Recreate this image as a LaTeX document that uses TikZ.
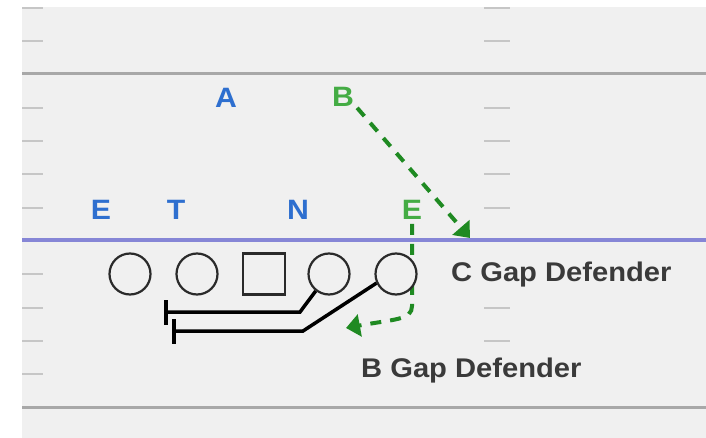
\documentclass[tikz,border=0pt]{standalone}
\usepackage{fontspec}
\setmainfont{Liberation Sans}
\usetikzlibrary{arrows.meta}
\definecolor{fieldbg}{HTML}{F0F0F0}
\definecolor{yardline}{HTML}{A8A8A8}
\definecolor{hashc}{HTML}{C6C6C6}
\definecolor{losblue}{HTML}{8686D6}
\definecolor{offblue}{HTML}{2E6FCF}
\definecolor{defgreen}{HTML}{44AC44}
\definecolor{routegreen}{HTML}{1F8A22}
\definecolor{txtgrey}{HTML}{3A3A3A}
\definecolor{plyr}{HTML}{2A2A2A}
\newcommand{\wide}[1]{\scalebox{1.08}[1]{#1}}
\tikzset{
  hashmark/.style={draw=hashc, line width=2.5pt},
  yline/.style={draw=yardline, line width=3pt},
  letter/.style={font=\fontsize{28}{32}\selectfont\bfseries, inner sep=0pt},
  offl/.style={letter, text=offblue},
  defl/.style={letter, text=defgreen},
  caption/.style={font=\fontsize{27}{32}\selectfont\bfseries, text=txtgrey, inner sep=0pt, anchor=west},
  player/.style={draw=plyr, line width=2.2pt, fill=fieldbg, minimum width=40pt, minimum height=41pt, inner sep=0pt},
  route/.style={draw=routegreen, line width=4pt, dash pattern=on 11pt off 9pt, -{Triangle[length=14pt,width=22pt]}, fill=none},
  block/.style={draw=black, line width=3.5pt, -{Bar[width=25pt,line width=3.5pt]}}
}
\begin{document}
\begin{tikzpicture}[x=1pt,y=-1pt]
\useasboundingbox (0,0) rectangle (706,438);
\fill[fieldbg] (22,7) rectangle (706,438);
% hash marks
\foreach \y in {8,41,108,141,174,208,274,308,341,374}{
  \draw[hashmark] (22,\y) -- (43,\y);
}
\foreach \y in {8,41,108,141,174,208,308,341}{
  \draw[hashmark] (484,\y) -- (510,\y);
}
% yard lines and line of scrimmage
\draw[yline] (22,74) -- (706,74);
\draw[yline] (22,407) -- (706,407);
\draw[draw=losblue, line width=4pt] (22,240) -- (706,240);
% defender labels
\node[defl] (B) at (343,97) {\wide{B}};
\node[defl] (E2) at (412,210) {\wide{E}};
% offensive labels
\node[offl] (A) at (226,98) {\wide{A}};
\node[offl] (E1) at (101,210) {\wide{E}};
\node[offl] (T) at (176,210) {\wide{T}};
\node[offl] (N) at (298,210) {\wide{N}};
% routes
\coordinate (tipB) at (470,238);
\draw[route] ([xshift=3pt,yshift=-1pt]B.south east) -- (tipB);
\coordinate (eDown) at (412,306);
\coordinate (tipE) at (346,328);
\draw[route] ([yshift=-4pt]E2.south) -- (eDown) .. controls (412,320) and (395,319) .. (tipE);
% players
\node[player, circle] (c1) at (130,274) {};
\node[player, circle] (c2) at (197,274) {};
\node[player, rectangle, minimum width=42pt, minimum height=41pt] (ctr) at (264,274) {};
\node[player, circle] (c4) at (329,274) {};
\node[player, circle] (c5) at (396,274) {};
% blocks
\coordinate (b1) at (300,312);
\coordinate (e1) at (164,312);
\coordinate (b2) at (303,331);
\coordinate (e2) at (172,331);
\draw[block] (c4.232) -- (b1) -- (e1);
\draw[block] (c5.205) -- (b2) -- (e2);
% captions
\node[caption] (cgap) at (451,275) {\wide{C Gap Defender}};
\node[caption] (bgap) at (361,371) {\wide{B Gap Defender}};
\end{tikzpicture}
\end{document}
